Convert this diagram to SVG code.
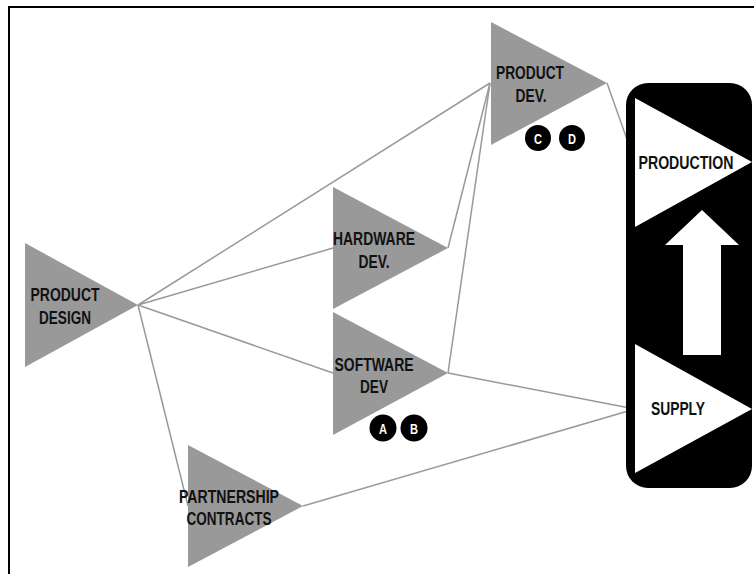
<svg xmlns="http://www.w3.org/2000/svg" width="754" height="574" viewBox="0 0 754 574">
<style>
.tri{fill:#999999}
.wtri{fill:#ffffff}
.lbl{font-family:"Liberation Sans",Arial,sans-serif;font-weight:bold;font-size:18px;fill:#111;text-anchor:middle}
.badge circle{fill:#000}
.badge text{font-family:"Liberation Sans",Arial,sans-serif;font-weight:bold;font-size:15px;fill:#fff;text-anchor:middle}
.conn line{stroke:#999999;stroke-width:1.5}
</style>
<rect x="0" y="0" width="754" height="574" fill="#ffffff"/>
<rect x="9" y="7" width="780" height="600" fill="none" stroke="#000" stroke-width="2"/>
<g id="connectors" class="conn">
<line x1="138" y1="305" x2="490" y2="83"/>
<line x1="138" y1="305" x2="333" y2="248"/>
<line x1="138" y1="305" x2="333" y2="373"/>
<line x1="138" y1="305" x2="188" y2="506"/>
<line x1="448" y1="248" x2="490" y2="83"/>
<line x1="448" y1="373" x2="490" y2="83"/>
<line x1="448" y1="373" x2="635" y2="409"/>
<line x1="303" y1="506" x2="635" y2="409"/>
<line x1="607" y1="83" x2="635" y2="162"/>
</g>
<g id="product-design">
<polygon class="tri" points="25,243 138,305 25,367"/>
<text class="lbl" x="65" y="301" textLength="69" lengthAdjust="spacingAndGlyphs">PRODUCT</text>
<text class="lbl" x="65" y="324" textLength="52" lengthAdjust="spacingAndGlyphs">DESIGN</text>
</g>
<g id="product-dev">
<polygon class="tri" points="491,22 607,83 491,145"/>
<text class="lbl" x="530" y="79" textLength="68" lengthAdjust="spacingAndGlyphs">PRODUCT</text>
<text class="lbl" x="531" y="102" textLength="31" lengthAdjust="spacingAndGlyphs">DEV.</text>
</g>
<g id="badges-cd" class="badge">
<circle cx="538" cy="138" r="13"/>
<text x="538" y="143.5" textLength="8" lengthAdjust="spacingAndGlyphs">C</text>
<circle cx="572" cy="138" r="13"/>
<text x="572" y="143.5" textLength="8" lengthAdjust="spacingAndGlyphs">D</text>
</g>
<g id="hardware-dev">
<polygon class="tri" points="333,187 448,248 333,309"/>
<text class="lbl" x="374" y="245" textLength="82" lengthAdjust="spacingAndGlyphs">HARDWARE</text>
<text class="lbl" x="374" y="268" textLength="31" lengthAdjust="spacingAndGlyphs">DEV.</text>
</g>
<g id="software-dev">
<polygon class="tri" points="333,312 448,373 333,435"/>
<text class="lbl" x="374" y="371" textLength="79" lengthAdjust="spacingAndGlyphs">SOFTWARE</text>
<text class="lbl" x="374" y="393" textLength="28" lengthAdjust="spacingAndGlyphs">DEV</text>
</g>
<g id="badges-ab" class="badge">
<circle cx="383" cy="428" r="13.5"/>
<text x="383" y="433.5" textLength="8" lengthAdjust="spacingAndGlyphs">A</text>
<circle cx="414" cy="428" r="13.5"/>
<text x="414" y="433.5" textLength="8" lengthAdjust="spacingAndGlyphs">B</text>
</g>
<g id="partnership-contracts">
<polygon class="tri" points="188,445 303,506 188,567"/>
<text class="lbl" x="229" y="503" textLength="100" lengthAdjust="spacingAndGlyphs">PARTNERSHIP</text>
<text class="lbl" x="229" y="525" textLength="85" lengthAdjust="spacingAndGlyphs">CONTRACTS</text>
</g>
<g id="process-column">
<rect x="626" y="83" width="126" height="405" rx="22" ry="22" fill="#000"/>
<polygon points="702,210 739,245 721,245 721,355 683,355 683,245 665,245" fill="#fff"/>
</g>
<g id="production">
<polygon class="wtri" points="635,98 752,162 635,227"/>
<text class="lbl" x="686" y="169" textLength="95" lengthAdjust="spacingAndGlyphs">PRODUCTION</text>
</g>
<g id="supply">
<polygon class="wtri" points="635,344 752,409 635,473"/>
<text class="lbl" x="678" y="415" textLength="54" lengthAdjust="spacingAndGlyphs">SUPPLY</text>
</g>
</svg>
